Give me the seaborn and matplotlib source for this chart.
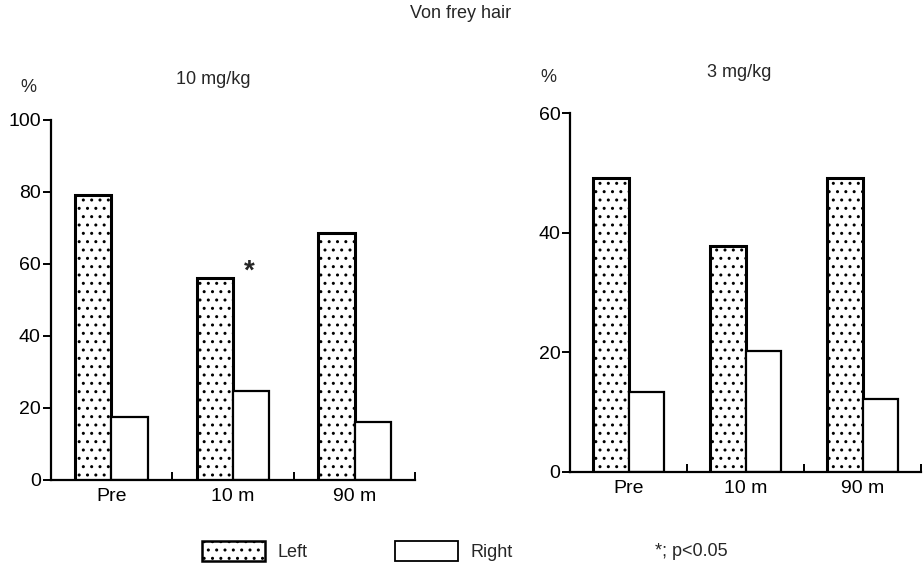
import matplotlib
matplotlib.use("Agg")
import matplotlib.pyplot as plt
import matplotlib.patches as mpatches
import seaborn as sns
import pandas as pd

times = ["Pre", "10 m", "90 m"]
sides = ["Left", "Right"]
left_10 = [79.2, 56.1, 68.6]
right_10 = [17.5, 24.7, 16.1]
left_3 = [49.1, 37.8, 49.1]
right_3 = [13.4, 20.2, 12.2]
yticks_10 = [0, 20, 40, 60, 80, 100]
yticks_3 = [0, 20, 40, 60]

sns.set_theme(style="white")
plt.rcParams["font.family"] = ["Liberation Sans", "DejaVu Sans"]
plt.rcParams["hatch.linewidth"] = 1.0
plt.rcParams["hatch.color"] = "black"

def make_df(lv, rv):
    rows = []
    for t, a, b in zip(times, lv, rv):
        rows.append({"time": t, "side": "Left", "val": a})
        rows.append({"time": t, "side": "Right", "val": b})
    return pd.DataFrame(rows)

fig = plt.figure(figsize=(9.23, 5.68), dpi=100)
ax1 = fig.add_axes([50.5 / 923, 88 / 568, 365 / 923, 360 / 568])
ax2 = fig.add_axes([570 / 923, 96 / 568, 351 / 923, 359 / 568])

def draw(ax, lv, rv, ymax, yticks):
    df = make_df(lv, rv)
    sns.barplot(data=df, x="time", y="val", hue="side", hue_order=sides,
                order=times, palette=["white", "white"], width=0.6,
                edgecolor="black", linewidth=1.6, ax=ax, legend=False,
                saturation=1)
    for p in ax.containers[0]:
        p.set_hatch("..")
        p.set_linewidth(2.2)
    ax.set_xlim(-0.5, 2.5)
    ax.set_ylim(0, ymax)
    ax.set_yticks(yticks)
    ax.set_xlabel("")
    ax.set_ylabel("")
    for s in ["top", "right"]:
        ax.spines[s].set_visible(False)
    for s in ["left", "bottom"]:
        ax.spines[s].set_linewidth(1.6)
        ax.spines[s].set_color("black")
    ax.tick_params(axis="y", direction="out", length=6, width=1.4,
                   labelsize=14, pad=1, colors="black", left=True)
    ax.tick_params(axis="x", which="major", length=0, labelsize=14, pad=6,
                   colors="black")
    ax.set_xticks([0.5, 1.5, 2.5], minor=True)
    ax.tick_params(axis="x", which="minor", direction="in", length=6,
                   width=1.4, bottom=True, colors="black")
    ax.patch.set_alpha(0)

draw(ax1, left_10, right_10, 100, yticks_10)
draw(ax2, left_3, right_3, 60, yticks_3)

ax1.text(1.13, 58, "*", fontsize=20, ha="center", va="center", fontweight="bold")

fig.text(461 / 923, 1 - 14 / 568, "Von frey hair", ha="center", va="center", fontsize=13)
fig.text(213 / 923, 1 - 80 / 568, "10 mg/kg", ha="center", va="center", fontsize=13)
fig.text(739 / 923, 1 - 72 / 568, "3 mg/kg", ha="center", va="center", fontsize=13)
fig.text(28 / 923, 1 - 88 / 568, "%", ha="center", va="center", fontsize=13)
fig.text(548 / 923, 1 - 78 / 568, "%", ha="center", va="center", fontsize=13)

handles = [mpatches.Patch(facecolor="white", edgecolor="black", hatch="..",
                          linewidth=1.8, label="Left"),
           mpatches.Patch(facecolor="white", edgecolor="black",
                          linewidth=1.3, label="Right")]
fig.legend(handles=handles, loc="center left", bbox_to_anchor=(202 / 923, 1 - 551 / 568),
           ncol=2, frameon=False, fontsize=13, handlelength=3.5, handleheight=1.3,
           columnspacing=4.8, handletextpad=0.7, borderpad=0, borderaxespad=0)
fig.text(655 / 923, 1 - 551 / 568, "*; p<0.05", ha="left", va="center", fontsize=13)

fig.savefig("out.png", dpi=100)
